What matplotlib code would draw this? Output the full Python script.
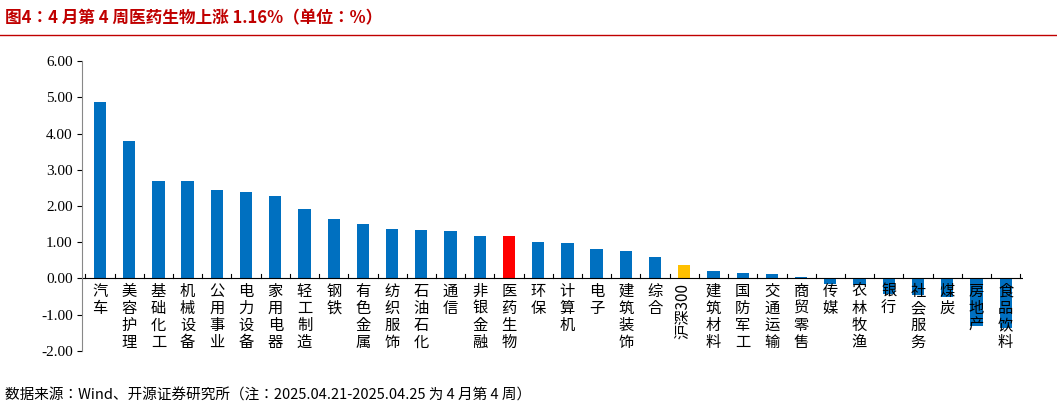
import numpy as np
import matplotlib.pyplot as plt

cjk = ['Noto Sans CJK SC', 'Noto Sans CJK JP', 'Noto Sans CJK TC', 'Noto Sans CJK KR', 'DejaVu Sans']
plt.rcParams['font.family'] = cjk
plt.rcParams['axes.unicode_minus'] = False

cats = ['汽车', '美容护理', '基础化工', '机械设备', '公用事业', '电力设备', '家用电器', '轻工制造',
        '钢铁', '有色金属', '纺织服饰', '石油石化', '通信', '非银金融', '医药生物', '环保', '计算机',
        '电子', '建筑装饰', '综合', '沪深300', '建筑材料', '国防军工', '交通运输', '商贸零售', '传媒',
        '农林牧渔', '银行', '社会服务', '煤炭', '房地产', '食品饮料']
vals = [4.87, 3.80, 2.70, 2.68, 2.43, 2.40, 2.27, 1.92, 1.63, 1.50, 1.37, 1.34, 1.31, 1.16, 1.16,
        1.01, 0.98, 0.82, 0.76, 0.59, 0.38, 0.21, 0.15, 0.13, 0.05, -0.14, -0.17, -0.42, -0.47,
        -0.50, -1.31, -1.36]

colors = ['#0070C0'] * len(cats)
colors[cats.index('医药生物')] = '#FF0000'
colors[cats.index('沪深300')] = '#FFC000'

fig = plt.figure(figsize=(10.57, 4.08), dpi=100)
fig.text(0.005, 0.955, '图4：4 月第 4 周医药生物上涨 1.16%（单位：%）', fontsize=12,
         fontweight='bold', color='#C00000', va='center')
fig.add_artist(plt.Line2D([0, 1], [0.915, 0.915], color='#C00000', lw=1))
fig.text(0.005, 0.03, '数据来源：Wind、开源证券研究所（注：2025.04.21-2025.04.25 为 4 月第 4 周）',
         fontsize=10.5, va='center')

ax = fig.add_axes([0.078, 0.14, 0.89, 0.71])
x = np.arange(len(cats))
ax.bar(x, vals, width=0.42, color=colors)
ax.set_xlim(-0.6, len(cats) - 0.4)
ax.set_ylim(-2, 6)
ax.set_yticks(np.arange(-2, 6.1, 1))
ax.set_yticklabels([f'{v:.2f}' for v in np.arange(-2, 6.1, 1)], fontsize=11,
                   fontfamily='Liberation Serif')
ax.set_xticks([])
for s in ['top', 'right', 'bottom']:
    ax.spines[s].set_visible(False)
ax.spines['left'].set_color('#888888')
ax.axhline(0, color='black', lw=0.8)
for i in range(len(cats) + 1):
    ax.plot([i - 0.5, i - 0.5], [0, 0.12], color='black', lw=0.8)
for i, c in enumerate(cats):
    if c.isascii() or any(ch.isdigit() for ch in c):
        ax.text(i, -0.12, c, rotation=90, ha='center', va='top', fontsize=11)
    else:
        ax.text(i, -0.12, '\n'.join(c), ha='center', va='top', fontsize=11, linespacing=1.0)

fig.savefig('out.png', dpi=100)
